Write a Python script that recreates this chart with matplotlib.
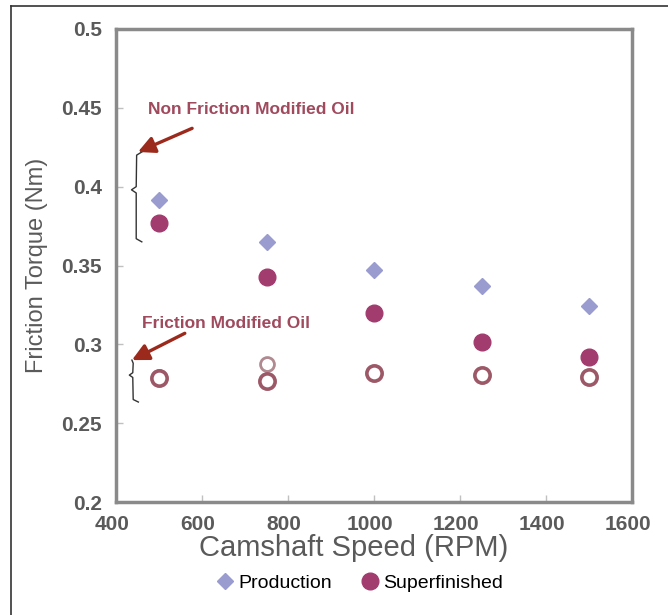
import numpy as np
import matplotlib.pyplot as plt
import matplotlib.transforms as mtransforms
from matplotlib.lines import Line2D

plt.rcParams['font.family'] = ['Liberation Sans', 'DejaVu Sans']

# camshaft speed (RPM)
speed = [500, 750, 1000, 1250, 1500]
# non friction modified oil
production = [0.3915, 0.365, 0.347, 0.337, 0.324]
superfinished = [0.377, 0.343, 0.320, 0.3015, 0.292]
# friction modified oil
production_fm = [0.279, 0.2875, 0.282, 0.2805, 0.279]
superfinished_fm = [0.2786, 0.277, 0.282, 0.2805, 0.279]

xticks = [400, 600, 800, 1000, 1200, 1400, 1600]
yticks = [0.2, 0.25, 0.3, 0.35, 0.4, 0.45, 0.5]
ytick_labels = ['0.2', '0.25', '0.3', '0.35', '0.4', '0.45', '0.5']

c_prod = '#9a9cd0'
c_sup = '#a23b6e'
c_open = '#9c5866'
c_note = '#a04a5e'
c_arrow = '#9c2a1c'
c_axis = '#8a8a8a'
c_text = '#5a5a5a'

fig = plt.figure(figsize=(6.68, 6.15), dpi=100)
ax = fig.add_axes([116 / 668, 1 - 502 / 615, 516 / 668, 473 / 615])

# outer frame (left + top)
fig.add_artist(Line2D([11 / 668, 11 / 668], [0, 1 - 6 / 615], color='#333333', lw=1.2))
fig.add_artist(Line2D([11 / 668, 1], [1 - 6 / 615, 1 - 6 / 615], color='#333333', lw=1.2))

# friction modified oil (open)
ax.plot(speed, production_fm, 'o', ms=10, mfc='none', mec='#b08a90', mew=2.0, zorder=2)
ax.plot(speed, superfinished_fm, 'o', ms=11, mfc='white', mec=c_open, mew=2.6, zorder=3)
# non friction modified oil
h1, = ax.plot(speed, production, 'D', ms=8, color=c_prod, mec=c_prod, zorder=3)
h2, = ax.plot(speed, superfinished, 'o', ms=12, color=c_sup, mec=c_sup, zorder=3)

ax.set_xlim(400, 1600)
ax.set_ylim(0.2, 0.5)
ax.set_xticks(xticks)
ax.set_yticks(yticks)
ax.set_yticklabels(ytick_labels)
ax.tick_params(direction='in', length=5, width=1, color='#c0c0c0',
               labelsize=15, labelcolor=c_text)
ax.tick_params(axis='x', pad=9)
ax.tick_params(axis='y', pad=10)
shift = mtransforms.ScaledTranslation(-4 / 100, 0, fig.dpi_scale_trans)
for lab in ax.get_xticklabels():
    lab.set_transform(lab.get_transform() + shift)
for lab in ax.get_xticklabels() + ax.get_yticklabels():
    lab.set_fontweight('bold')
for sp in ax.spines.values():
    sp.set_color(c_axis)
    sp.set_linewidth(2.5)

ax.set_xlabel('Camshaft Speed (RPM)', fontsize=21, color=c_text)
ax.xaxis.set_label_coords((354 - 116) / 516, -(534 - 502) / 473)
ax.set_ylabel('Friction Torque (Nm)', fontsize=17, color=c_text)
ax.yaxis.set_label_coords(-(116 - 48) / 516, 0.5)

# annotations
ax.text(474, 0.449, 'Non Friction Modified Oil', fontsize=12.5, fontweight='bold',
        color=c_note, va='center', ha='left')
ax.annotate('', xy=(451, 0.422), xytext=(577, 0.437),
            arrowprops=dict(arrowstyle='-|>,head_width=0.5,head_length=1.0',
                            color=c_arrow, lw=2.4, shrinkA=0, shrinkB=0))
ax.text(460, 0.3135, 'Friction Modified Oil', fontsize=12.5, fontweight='bold',
        color=c_note, va='center', ha='left')
ax.annotate('', xy=(437, 0.290), xytext=(560, 0.307),
            arrowprops=dict(arrowstyle='-|>,head_width=0.5,head_length=1.0',
                            color=c_arrow, lw=2.4, shrinkA=0, shrinkB=0))

# braces
ax.plot([460, 448, 447, 436, 447, 447, 460],
        [0.422, 0.420, 0.400, 0.398, 0.396, 0.367, 0.365],
        color='#333333', lw=1.0, clip_on=False)
ax.plot([437, 440, 439, 431, 439, 440, 452],
        [0.290, 0.288, 0.282, 0.2805, 0.279, 0.265, 0.2634],
        color='#333333', lw=1.0, clip_on=False)

fig.legend([h1, h2], ['Production', 'Superfinished'], loc='center',
           bbox_to_anchor=(358 / 668, 1 - 583 / 615), ncol=2, frameon=False,
           fontsize=14, handletextpad=0.1, columnspacing=1.35, markerscale=1.0,
           borderpad=0, handlelength=1.2)

fig.savefig('out.png', dpi=100)
